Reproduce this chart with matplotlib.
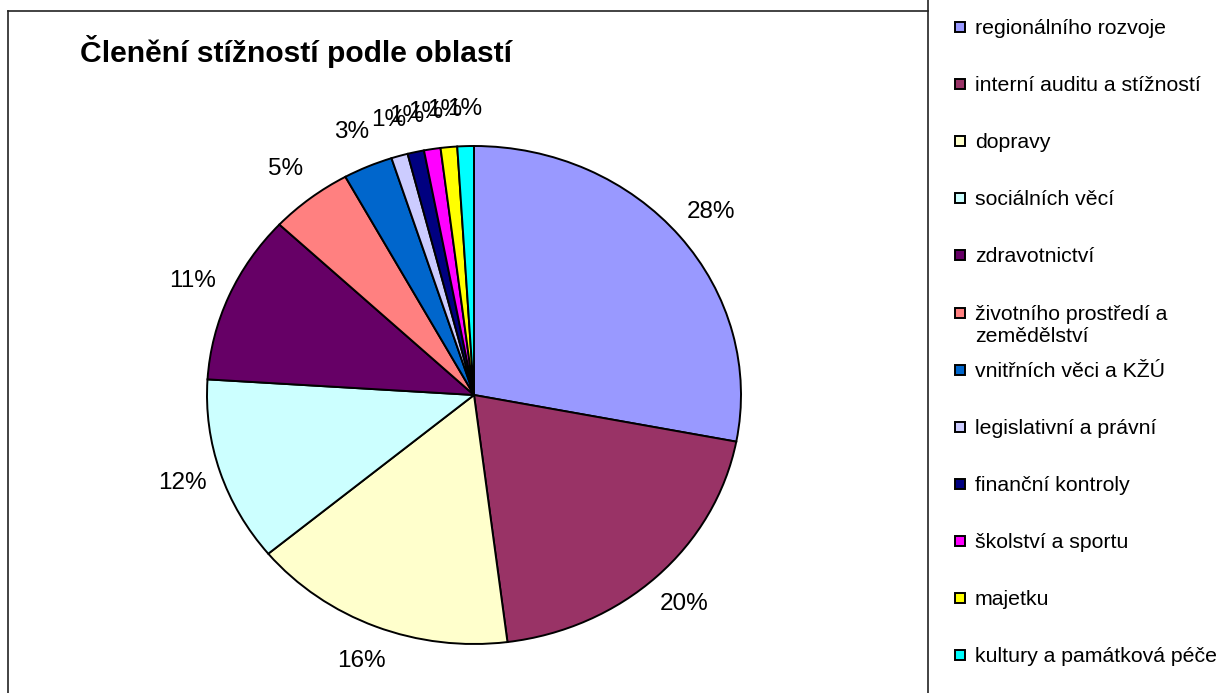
import matplotlib
matplotlib.use('Agg')
import matplotlib.pyplot as plt
from matplotlib.patches import Rectangle
from matplotlib.lines import Line2D

plt.rcParams['font.family'] = ['Liberation Sans', 'DejaVu Sans']

title = 'Členění stížností podle oblastí'
categories = ['regionálního rozvoje', 'interní auditu a stížností', 'dopravy',
              'sociálních věcí', 'zdravotnictví',
              'životního prostředí a\nzemědělství', 'vnitřních věci a KŽÚ',
              'legislativní a právní', 'finanční kontroly', 'školství a sportu',
              'majetku', 'kultury a památková péče']
values = [28, 20, 16, 12, 11, 5, 3, 1, 1, 1, 1, 1]
colors = ['#9999FF', '#993366', '#FFFFCC', '#CCFFFF', '#660066', '#FF8080',
          '#0066CC', '#CCCCFF', '#000080', '#FF00FF', '#FFFF00', '#00FFFF']

W, H = 1228, 693
fig = plt.figure(figsize=(W / 100, H / 100), dpi=100)

# frame around chart area + separator before legend
fig.add_artist(Line2D([8 / W, 8 / W], [0, 1 - 11 / H], color='#222222', lw=1.2))
fig.add_artist(Line2D([8 / W, 928 / W], [1 - 11 / H, 1 - 11 / H], color='#222222', lw=1.2))
fig.add_artist(Line2D([928 / W, 928 / W], [0, 1], color='#222222', lw=1.2))

cx, cy, rx, ry = 474, 395, 267, 249
ax = fig.add_axes([(cx - rx) / W, (H - cy - ry) / H, 2 * rx / W, 2 * ry / H])
wedges, texts, autotexts = ax.pie(values, colors=colors, startangle=90, counterclock=False,
                                  autopct='%1.0f%%', pctdistance=1.15,
                                  wedgeprops=dict(edgecolor='black', linewidth=1.4),
                                  textprops=dict(fontsize=17.5, color='black'))
ax.set_aspect('auto')
ax.set_xlim(-1, 1)
ax.set_ylim(-1, 1)

fig.text(80 / W, 1 - 52 / H, title, fontsize=21.6, fontweight='bold', va='center', ha='left')

# legend
y0, step = 27, 57.1
for i, (lab, c) in enumerate(zip(categories, colors)):
    y = y0 + i * step
    fig.add_artist(Rectangle((955 / W, 1 - (y + 5) / H), 10 / W, 10 / H,
                             facecolor=c, edgecolor='black', lw=1.4,
                             transform=fig.transFigure))
    fig.text(975 / W, 1 - (y - 8) / H, lab, fontsize=15.3, va='top', ha='left',
             linespacing=1.25)

fig.savefig('out.png', dpi=100)
